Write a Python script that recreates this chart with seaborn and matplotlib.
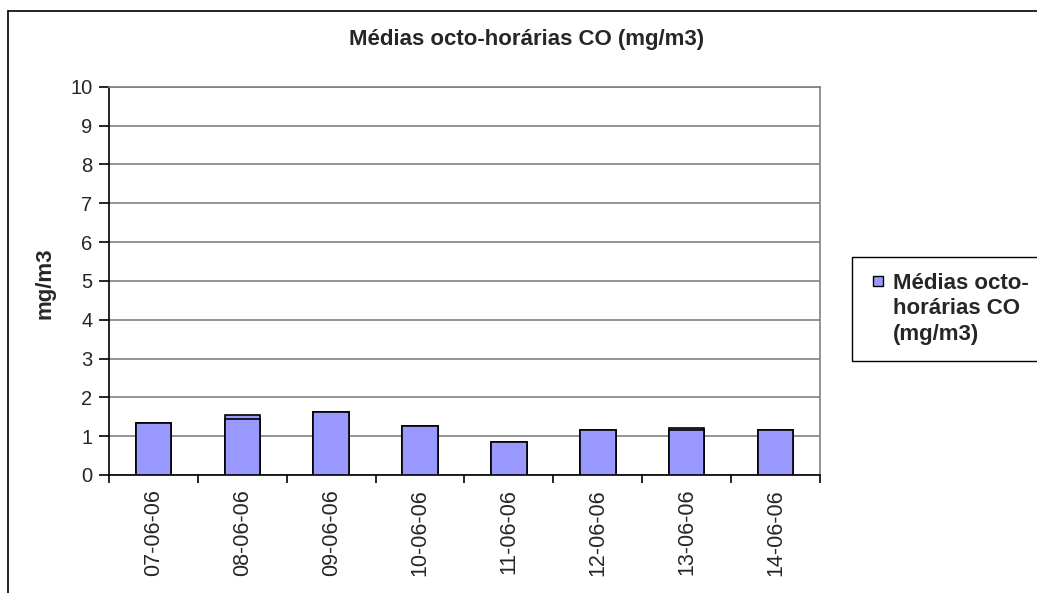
import matplotlib
matplotlib.use("Agg")
import matplotlib.pyplot as plt
import seaborn as sns
import pandas as pd
from matplotlib.lines import Line2D

dates = ["07-06-06", "08-06-06", "09-06-06", "10-06-06",
         "11-06-06", "12-06-06", "13-06-06", "14-06-06"]
# two 8-hour averages overlap on some days (drawn at the same position)
co_max = [1.35, 1.54, 1.62, 1.27, 0.84, 1.17, 1.21, 1.17]
co_other = [1.35, 1.44, 1.62, 1.27, 0.84, 1.17, 1.17, 1.17]
title = "Médias octo-horárias CO (mg/m3)"
legend_label = "Médias octo-\nhorárias CO\n(mg/m3)"
ylabel = "mg/m3"

sns.set_theme(style="white")
plt.rcParams['font.family'] = ['Liberation Sans', 'DejaVu Sans']

W, H = 1037, 593
fig = plt.figure(figsize=(W / 100, H / 100), dpi=100)
L, R, T, B = 109, 820, 86.7, 475
ax = fig.add_axes([L / W, 1 - B / H, (R - L) / W, (B - T) / H])

df = pd.DataFrame({"date": dates, "a": co_max, "b": co_other})
bar_kw = dict(color="#9999FF", edgecolor="black", linewidth=1.2, width=0.4,
              saturation=1, zorder=3)
sns.barplot(data=df, x="date", y="a", ax=ax, **bar_kw)
sns.barplot(data=df, x="date", y="b", ax=ax, **bar_kw)

ax.set_ylim(0, 10)
ax.set_xlim(-0.5, len(dates) - 0.5)
ax.set_yticks(range(0, 11))
ax.yaxis.grid(True, color="#808080", linewidth=1.2, zorder=0)
ax.set_axisbelow(True)
for s in ["top", "right"]:
    ax.spines[s].set_color("#808080")
    ax.spines[s].set_linewidth(1.2)
for s in ["left", "bottom"]:
    ax.spines[s].set_color("black")
    ax.spines[s].set_linewidth(1.2)

ax.set_xticks(range(len(dates)))
ax.set_xticklabels(dates, rotation=90, fontsize=15.5)
ax.tick_params(axis="x", which="major", length=0, pad=10)
ax.set_xticks([i - 0.5 for i in range(len(dates) + 1)], minor=True)
ax.tick_params(axis="x", which="minor", length=6, width=1.2, color="black",
               direction="out", bottom=True)
ax.tick_params(axis="y", length=7, width=1.2, color="black", direction="out",
               left=True, labelsize=14.5, pad=5)
ax.set_xlabel("")
ax.set_ylabel("")
fig.text(45 / W, 1 - 283 / H, ylabel, rotation=90, ha="center", va="center",
         fontsize=16, fontweight="bold")

fig.text(527 / W, 1 - 40 / H, title, ha="center", va="center",
         fontsize=16, fontweight="bold")

handle = Line2D([], [], linestyle="none", marker="s", markersize=7.5,
                markerfacecolor="#9999FF", markeredgecolor="black",
                markeredgewidth=1)
leg = ax.legend(handles=[handle], labels=[legend_label], loc="upper left",
                bbox_to_anchor=(852 / W, 1 - 357 / H, 220 / W, 100 / H),
                bbox_transform=fig.transFigure, mode="expand",
                fancybox=False, edgecolor="black", framealpha=1,
                prop={"weight": "bold", "size": 16}, handlelength=0.95,
                handleheight=0.85, handletextpad=0.2, borderpad=0.7,
                borderaxespad=0, labelspacing=0.3)
leg.get_frame().set_linewidth(1.0)
for t in leg.get_texts():
    t.set_linespacing(1.3)
for col in leg._legend_handle_box.get_children():
    for item in col.get_children():
        item.align = "top"

x0 = 8 / W
y0 = 1 - 11 / H
fig.add_artist(Line2D([x0, x0], [0, y0], color="black", linewidth=1.2,
                      transform=fig.transFigure))
fig.add_artist(Line2D([x0, 1], [y0, y0], color="black", linewidth=1.2,
                      transform=fig.transFigure))

fig.savefig("out.png", dpi=100)
